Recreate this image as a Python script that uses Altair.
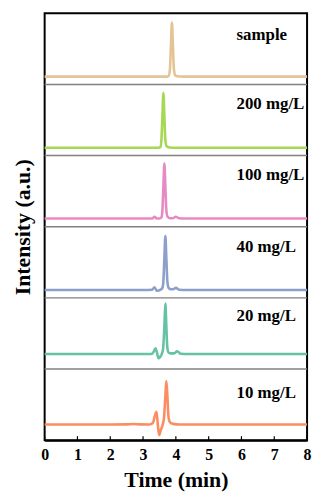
import altair as alt
import pandas as pd

# ---- data (intensity in a.u., each panel spans 100) ----
series_names = ["sample", "200 mg/L", "100 mg/L", "40 mg/L", "20 mg/L", "10 mg/L"]
series_colors = ["#e5c494", "#a6d854", "#e78ac3", "#8da0cb", "#66c2a5", "#fc8d62"]
series_offsets = [500, 400, 300, 200, 100, 0]
label_y = [70, 73, 72, 72, 74, 66]
label_x = 5.85

t_sample = [0, 1, 2, 3, 3.5, 3.72, 3.78, 3.82, 3.85, 3.88, 3.91, 3.94, 3.98, 4.05, 4.2, 5, 6, 7, 8]
v_sample = [11, 11, 11, 11, 11, 11, 12, 22, 55, 87, 55, 22, 13, 11.5, 11, 11, 11, 11, 11]

t_200 = [0, 1, 2, 3, 3.4, 3.48, 3.53, 3.56, 3.59, 3.62, 3.65, 3.68, 3.72, 3.8, 4.0, 5, 6, 7, 8]
v_200 = [11, 11, 11, 11, 11, 11, 12, 22, 55, 88, 55, 22, 13, 11.5, 11, 11, 11, 11, 11]

t_100 = [0, 1, 2, 3, 3.28, 3.35, 3.42, 3.5, 3.56, 3.59, 3.62, 3.65, 3.68, 3.71, 3.75,
         3.82, 3.9, 4.0, 4.1, 4.3, 5, 6, 7, 8]
v_100 = [11.5, 11.5, 11.5, 11.5, 11.5, 14, 11.5, 11.5, 13, 23, 56, 89, 56, 23, 14,
         12, 12, 14, 12, 11.5, 11.5, 11.5, 11.5, 11.5]

t_40 = [0, 1, 2, 3, 3.28, 3.35, 3.42, 3.48, 3.55, 3.59, 3.62, 3.65, 3.68, 3.71, 3.74,
        3.78, 3.85, 3.92, 4.0, 4.1, 4.3, 5, 6, 7, 8]
v_40 = [11, 11, 11, 11, 11.5, 15, 10, 10.5, 12, 14, 24, 56, 87, 56, 24,
        14, 12, 12, 14, 11.5, 11, 11, 11, 11, 11]

t_20 = [0, 1, 2, 3, 3.25, 3.32, 3.38, 3.42, 3.47, 3.52, 3.57, 3.61, 3.65, 3.68, 3.71,
        3.74, 3.78, 3.85, 3.95, 4.04, 4.14, 4.4, 5, 6, 7, 8]
v_20 = [21, 21, 21, 21, 21, 24, 29, 24, 15, 17, 21, 28, 60, 92, 60,
        30, 23, 22, 22, 25, 21.5, 21, 21, 21, 21, 21]

t_10 = [0, 1, 2, 2.5, 2.7, 2.9, 3.2, 3.3, 3.36, 3.41, 3.45, 3.49, 3.54, 3.6, 3.64, 3.68,
        3.71, 3.74, 3.77, 3.81, 3.87, 3.95, 4.1, 4.4, 5, 6, 7, 8]
v_10 = [22, 22, 22, 22.2, 22.6, 22.2, 22, 24, 34, 40, 22, 7, 14, 22, 32, 62,
        83, 64, 36, 26, 23.5, 22.5, 22, 22, 22, 22, 22, 22]

x_ticks = [0, 1, 2, 3, 4, 5, 6, 7, 8]
separators = [100, 200, 300, 400, 500]

# ---- build tables ----
all_t = [t_sample, t_200, t_100, t_40, t_20, t_10]
all_v = [v_sample, v_200, v_100, v_40, v_20, v_10]
rows = []
for name, off, ts, vs in zip(series_names, series_offsets, all_t, all_v):
    for t, v in zip(ts, vs):
        rows.append({"series": name, "time": t, "y": off + v})
df = pd.DataFrame(rows)

lab = pd.DataFrame({
    "series": series_names,
    "time": [label_x] * len(series_names),
    "y": [o + ly for o, ly in zip(series_offsets, label_y)],
})
sep = pd.DataFrame({"y": separators})
tk = pd.DataFrame({"time": x_ticks})

FONT = "Liberation Serif"
PLOT_W = 265
PLOT_H = 431

xscale = alt.Scale(domain=[0, 8], nice=False, zero=False)
yscale = alt.Scale(domain=[0, 600], nice=False)
cscale = alt.Scale(domain=series_names, range=series_colors)

xaxis = alt.Axis(title="Time (min)", values=x_ticks, format="d", ticks=False,
                 grid=False, domain=True, domainColor="black", domainWidth=2,
                 labelOverlap=False, tickCount=9,
                 labelFont=FONT, labelFontSize=16, labelFontWeight="bold",
                 labelColor="black", labelPadding=7, labelFlush=False,
                 titleFont=FONT, titleFontSize=22, titleFontWeight="bold",
                 titleColor="black", titlePadding=7)
yaxis = alt.Axis(title="Intensity (a.u.)", labels=False, ticks=False, grid=False,
                 domain=False, titleFont=FONT, titleFontSize=22,
                 titleFontWeight="bold", titleColor="black", titlePadding=10)

X = alt.X("time:Q", scale=xscale, axis=xaxis, title="Time (min)")
Y = alt.Y("y:Q", scale=yscale, axis=yaxis, title="Intensity (a.u.)")

lines = alt.Chart(df).mark_line(strokeWidth=2.6, interpolate="monotone").encode(
    x=X, y=Y,
    color=alt.Color("series:N", scale=cscale, legend=None),
    detail="series:N",
)

rules = alt.Chart(sep).mark_rule(color="#808080", strokeWidth=1.5).encode(y=Y)

ticks = alt.Chart(tk).mark_rule(color="black", strokeWidth=1.2).encode(
    x=X,
    y=alt.value(PLOT_H),
    y2=alt.value(PLOT_H - 4),
)

texts = alt.Chart(lab).mark_text(
    align="left", baseline="middle", font=FONT, fontSize=17, fontWeight="bold", color="black"
).encode(x=X, y=Y, text="series:N")

chart = alt.layer(rules, lines, ticks, texts).properties(
    width=PLOT_W, height=PLOT_H,
    padding={"left": 4, "top": 3, "right": 1, "bottom": 0},
    background="white",
).configure_view(
    stroke="black", strokeWidth=2
)

chart.save("out.html", embed_options={"renderer": "svg", "actions": False})
